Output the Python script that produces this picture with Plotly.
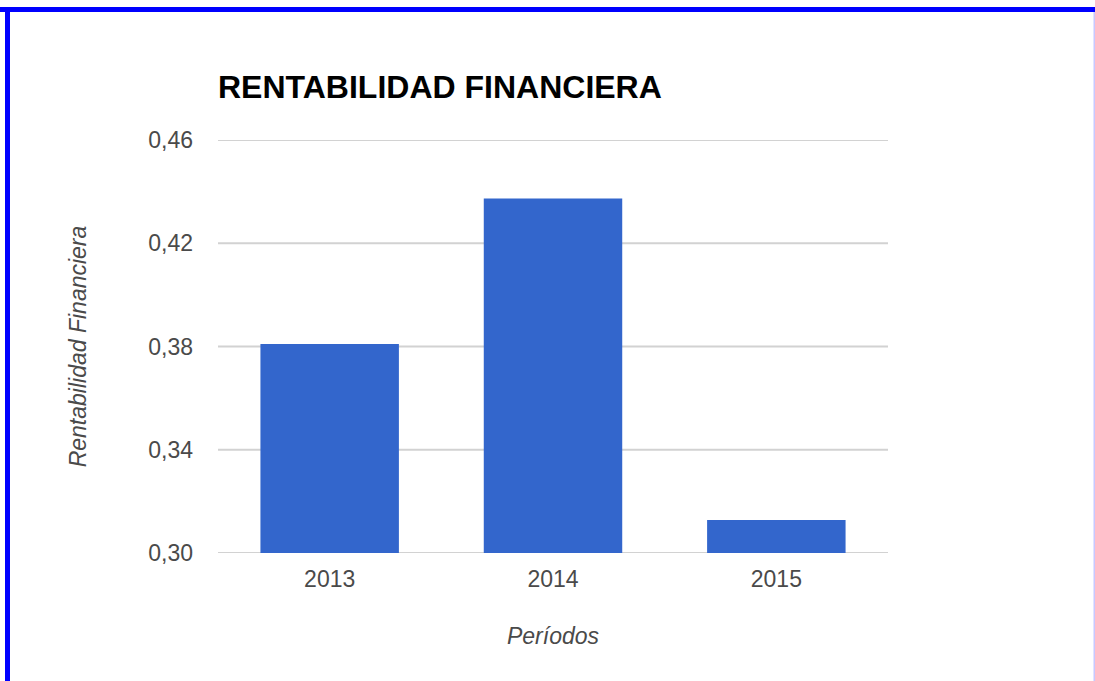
import plotly.graph_objects as go

# Data
periods = ["2013", "2014", "2015"]
rentabilidad = [0.381, 0.4373, 0.3128]
y_ticks = [0.30, 0.34, 0.38, 0.42, 0.46]
y_tick_labels = ["0,30", "0,34", "0,38", "0,42", "0,46"]
y_min, y_max = 0.30, 0.46

W, H = 1095, 681
L, R, T, B = 218, 888, 140, 553  # plot area in pixels

def px(x):
    return (x - L) / (R - L)

def py(y):
    return (B - y) / (B - T)

fig = go.Figure()
fig.add_trace(go.Bar(
    x=periods, y=rentabilidad,
    marker=dict(color="#3366cc", line=dict(width=0)),
    hoverinfo="x+y",
))

FONT = "Arial, 'Liberation Sans', sans-serif"

# horizontal gridlines (drawn as shapes so the edge lines at 0,30 and 0,46 show)
grid_shapes = [
    dict(type="line", xref="paper", yref="y", x0=0, x1=1, y0=v, y1=v,
         line=dict(color="#d2d2d2", width=2), layer="below")
    for v in y_ticks
]

frame_shapes = [
    # screenshot frame: top blue bar
    dict(type="rect", xref="paper", yref="paper",
         x0=px(0), x1=px(W), y0=py(12), y1=py(7),
         fillcolor="#0000ff", line=dict(width=0), layer="above"),
    # left blue bar
    dict(type="rect", xref="paper", yref="paper",
         x0=px(5), x1=px(10), y0=py(H), y1=py(7),
         fillcolor="#0000ff", line=dict(width=0), layer="above"),
    # right thin lavender line
    dict(type="rect", xref="paper", yref="paper",
         x0=px(1093.5), x1=px(1095), y0=py(H), y1=py(12),
         fillcolor="#c8c8ff", line=dict(width=0), layer="above"),
]

fig.update_layout(
    width=W, height=H,
    margin=dict(l=L, r=W - R, t=T, b=H - B, autoexpand=False),
    paper_bgcolor="white", plot_bgcolor="white",
    bargap=0.38,
    showlegend=False,
    separators=",.",
    font=dict(family=FONT, color="#4a4a4a"),
    title=dict(
        text="<b>RENTABILIDAD FINANCIERA</b>",
        font=dict(family=FONT, size=32, color="#000000"),
        x=L / W, xanchor="left", xref="container",
        y=1 - 87 / H, yanchor="middle", yref="container",
    ),
    xaxis=dict(
        showgrid=False, zeroline=False, showline=False,
        tickfont=dict(size=23, color="#4a4a4a"),
        ticks="", ticklabelstandoff=10,
        title=dict(text="<i>Períodos</i>", font=dict(size=23, color="#4a4a4a"), standoff=36),
        automargin=False,
    ),
    yaxis=dict(
        range=[y_min, y_max],
        tickvals=y_ticks, ticktext=y_tick_labels,
        showgrid=False, zeroline=False, showline=False,
        tickfont=dict(size=23, color="#4a4a4a"),
        ticks="", ticklabelstandoff=24,
        title=dict(text="<i>Rentabilidad Financiera</i>", font=dict(size=23, color="#4a4a4a"), standoff=55),
        automargin=False,
    ),
    shapes=grid_shapes + frame_shapes,
)

fig.write_html("out.html", config={"displayModeBar": False},
               post_script="document.body.style.margin='0';")
